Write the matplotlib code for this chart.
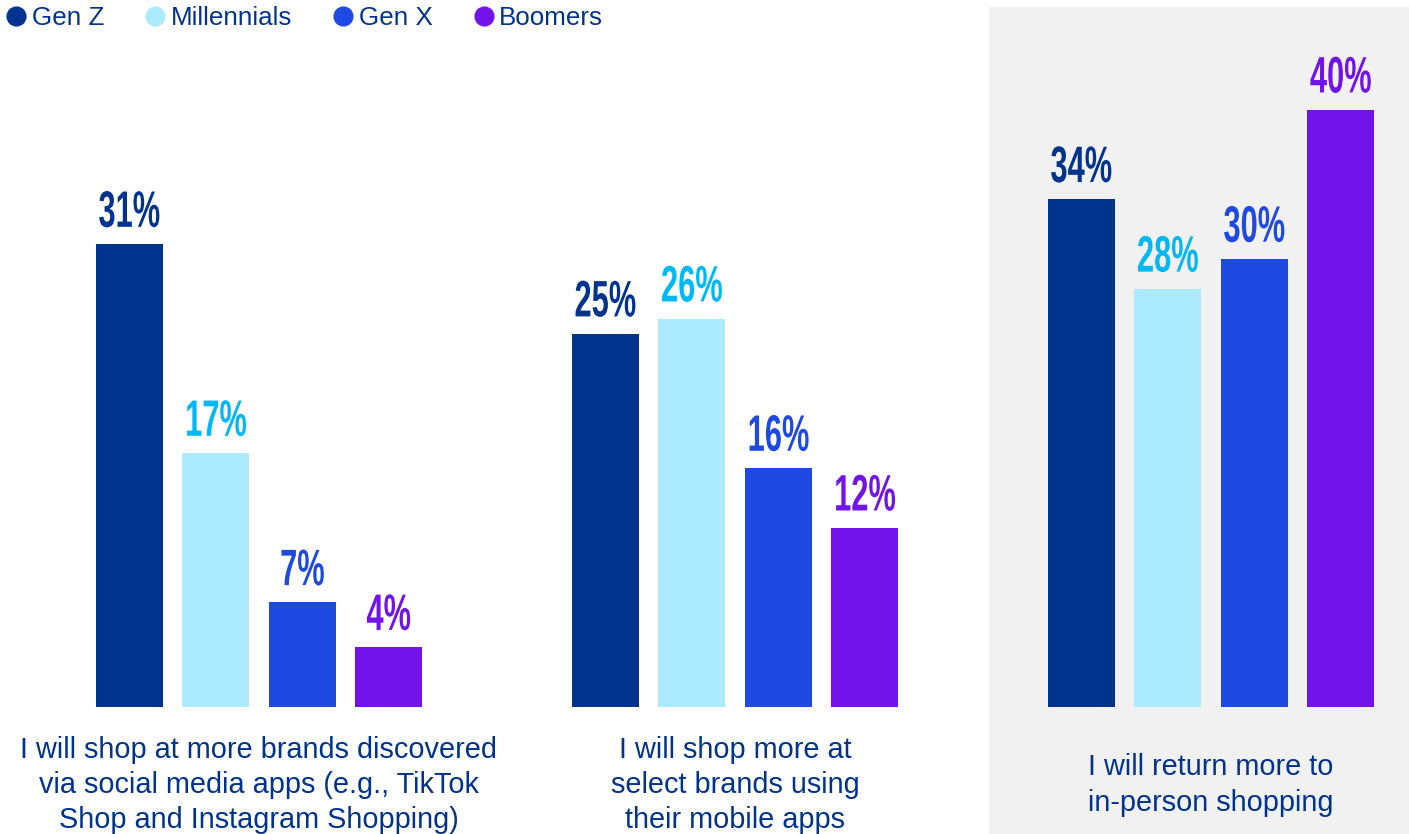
import matplotlib.pyplot as plt
from matplotlib.lines import Line2D
from matplotlib.patches import Rectangle
from matplotlib import patheffects
import matplotlib.transforms as mtransforms
import numpy as np

generations = ["Gen Z", "Millennials", "Gen X", "Boomers"]
statements = [
    "I will shop at more brands discovered\nvia social media apps (e.g., TikTok\nShop and Instagram Shopping)",
    "I will shop more at\nselect brands using\ntheir mobile apps",
    "I will return more to\nin-person shopping",
]
# share of respondents (%) per statement, one list per generation
gen_z = [31, 25, 34]
millennials = [17, 26, 28]
gen_x = [7, 16, 30]
boomers = [4, 12, 40]

bar_colors = ["#00338D", "#ACEAFF", "#1E49E2", "#7213EA"]
label_colors = ["#00338D", "#00B8F5", "#1E49E2", "#7213EA"]
navy = "#00338D"


class Condense(patheffects.AbstractPathEffect):
    """Narrow and heighten the glyphs around the text centre / baseline."""

    def __init__(self, sx, sy):
        super().__init__()
        self.sx, self.sy = sx, sy

    def draw_path(self, renderer, gc, tpath, affine, rgbFace=None):
        ext = tpath.get_extents(affine)
        cx = 0.5 * (ext.x0 + ext.x1)
        by = affine.transform((0, 0))[1]
        t = mtransforms.Affine2D().translate(-cx, -by).scale(self.sx, self.sy).translate(cx, by)
        renderer.draw_path(gc, tpath, affine + t, rgbFace)


W, H = 1409, 834
fig = plt.figure(figsize=(W / 100, H / 100), dpi=100)

# light grey panel behind the last group
fig.add_artist(Rectangle((989 / W, 0), 1 - 989 / W, 1 - 7 / H,
                         transform=fig.transFigure, facecolor="#F1F1F2",
                         edgecolor="none", zorder=-5))

base_px, px_per_pct = 707, 14.93
ymax = 47
ax = fig.add_axes([0, (H - base_px) / H, 1, ymax * px_per_pct / H])
ax.set_xlim(-259 / 476, (W - 259) / 476)
ax.set_ylim(0, ymax)
ax.axis("off")

x = np.arange(len(statements))
step, width = 86.5 / 476, 67 / 476
series = [gen_z, millennials, gen_x, boomers]
for i, vals in enumerate(series):
    xs = x + (i - 1.5) * step
    ax.bar(xs, vals, width=width, color=bar_colors[i], label=generations[i])
    for xi, v in zip(xs, vals):
        ax.annotate(f"{v}%", (xi, v), xytext=(0, 12.5), textcoords="offset points",
                    ha="center", va="baseline", fontsize=30, fontweight="bold",
                    family="Liberation Sans", color=label_colors[i],
                    path_effects=[Condense(0.74, 1.23)])

trans = mtransforms.blended_transform_factory(ax.transData, fig.transFigure)
for xi, s in zip(x, statements):
    ax.text(xi, 1 - 785 / H, s, transform=trans, ha="center", va="center",
            multialignment="center", fontsize=20.8, family="Liberation Sans",
            color=navy, linespacing=1.32)

handles = [Line2D([], [], marker="o", linestyle="none", markersize=13.5,
                  markerfacecolor=c, markeredgecolor=c) for c in bar_colors]
fig.legend(handles, generations, loc="center left", bbox_to_anchor=(6 / W, 1 - 18 / H),
           ncol=4, frameon=False, borderpad=0, borderaxespad=0,
           handlelength=0.8, handletextpad=0.2, columnspacing=1.56,
           prop={"family": "Liberation Sans", "size": 18.7}, labelcolor=navy)

fig.savefig("out.png", dpi=100)
